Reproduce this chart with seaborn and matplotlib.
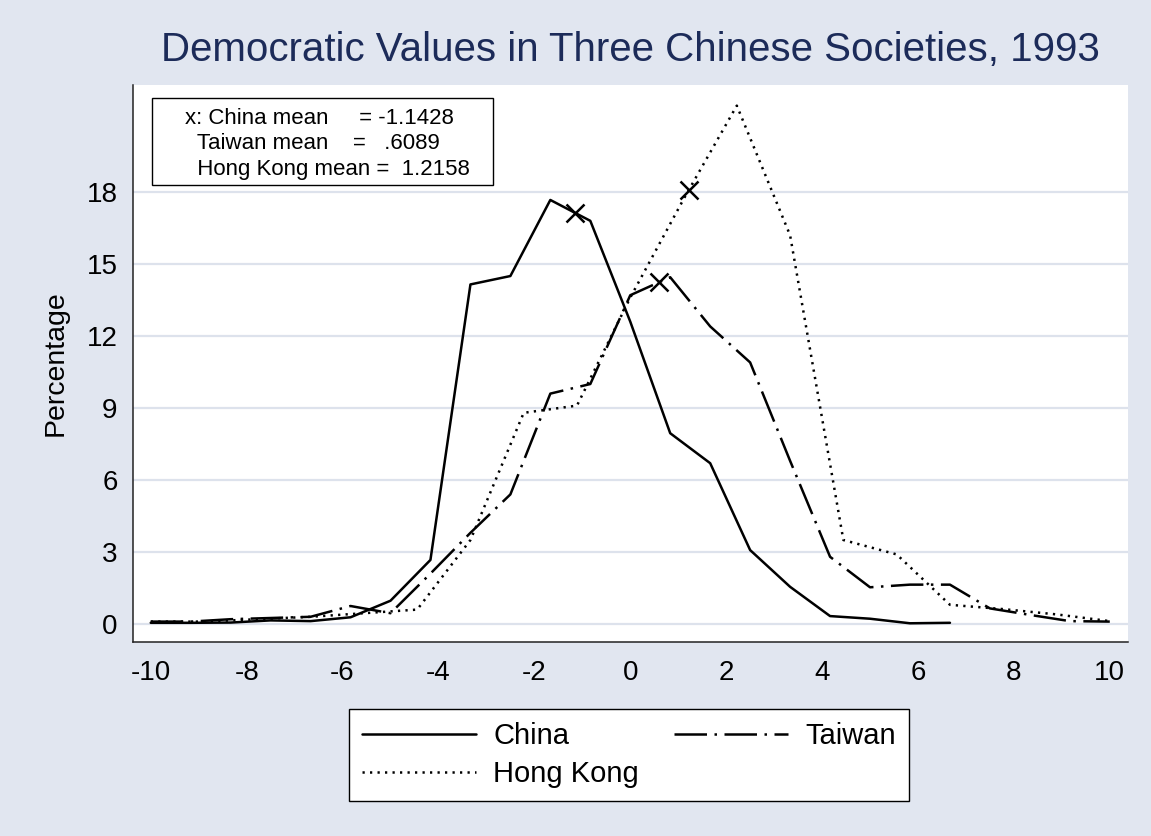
import numpy as np
import pandas as pd
import matplotlib
matplotlib.use("Agg")
import matplotlib.pyplot as plt
from matplotlib.patches import Rectangle
import seaborn as sns

# ---------------- data ----------------
x_ct = [-10, -9.167, -8.333, -7.5, -6.667, -5.833, -5, -4.167, -3.333, -2.5, -1.667, -0.833,
        0, 0.833, 1.667, 2.5, 3.333, 4.167, 5, 5.833, 6.667, 7.5, 8.333, 9.167, 10]
china = [0.05, 0.05, 0.06, 0.15, 0.12, 0.28, 0.97, 2.67, 14.15, 14.5, 17.67, 16.8,
         12.6, 7.95, 6.7, 3.08, 1.55, 0.33, 0.22, 0.03, 0.05]
taiwan = [0.1, 0.1, 0.2, 0.25, 0.3, 0.75, 0.45, 2.1, 3.8, 5.4, 9.6, 10.0,
          13.7, 14.45, 12.4, 10.9, 6.8, 2.8, 1.53, 1.64, 1.64, 0.65, 0.38, 0.12, 0.1]
x_hk = [-10, -8.889, -7.778, -6.667, -5.556, -4.444, -3.333, -2.222, -1.111, 0,
        1.111, 2.222, 3.333, 4.444, 5.556, 6.667, 7.778, 8.889, 10]
hongkong = [0.1, 0.1, 0.2, 0.3, 0.45, 0.6, 3.5, 8.8, 9.1, 13.6,
            17.7, 21.6, 16.2, 3.5, 2.9, 0.8, 0.62, 0.4, 0.12]
means = {"China": -1.1428, "Taiwan": 0.6089, "Hong Kong": 1.2158}
y_ticks = [0, 3, 6, 9, 12, 15, 18]
x_ticks = [-10, -8, -6, -4, -2, 0, 2, 4, 6, 8, 10]
title = "Democratic Values in Three Chinese Societies, 1993"

# ---------------- style ----------------
sns.set_theme(style="white")
plt.rcParams["font.family"] = ["Liberation Sans", "DejaVu Sans"]
plt.rcParams["text.color"] = "black"
bg = "#e1e6f0"
grid_c = "#dde2ec"

fig = plt.figure(figsize=(11.51, 8.36), dpi=100, facecolor=bg)
ax = fig.add_axes([133/1151, 1 - 642/836, (1128-133)/1151, (642-85)/836])
ax.set_facecolor("white")

china_df = pd.DataFrame({"x": x_ct[:len(china)], "y": china})
taiwan_df = pd.DataFrame({"x": x_ct, "y": taiwan})
hk_df = pd.DataFrame({"x": x_hk, "y": hongkong})

lw = 1.8
sns.lineplot(data=china_df, x="x", y="y", ax=ax, color="black", lw=lw,
             linestyle="-", label="China", sort=False, estimator=None)
sns.lineplot(data=taiwan_df, x="x", y="y", ax=ax, color="black", lw=lw,
             linestyle=(0, (13, 3, 1, 3)), label="Taiwan", sort=False, estimator=None)
sns.lineplot(data=hk_df, x="x", y="y", ax=ax, color="black", lw=lw,
             linestyle=(0, (0.9, 2.1)), label="Hong Kong", sort=False, estimator=None)

# mean markers placed on each curve
mx = [means["China"], means["Taiwan"], means["Hong Kong"]]
my = [np.interp(means["China"], x_ct[:len(china)], china),
      np.interp(means["Taiwan"], x_ct, taiwan),
      np.interp(means["Hong Kong"], x_hk, hongkong)]
ax.plot(mx, my, linestyle="none", marker="x", color="black", markersize=13, mew=1.8)

ax.set_xlim(-10.37, 10.38)
ax.set_ylim(-0.75, 22.46)
ax.set_xticks(x_ticks)
ax.set_xticklabels([str(t) for t in x_ticks])
ax.set_yticks(y_ticks)
ax.set_yticklabels([str(t) for t in y_ticks])
ax.yaxis.grid(True, color=grid_c, lw=1.6)
ax.xaxis.grid(False)
ax.set_axisbelow(True)
for s in ["top", "right"]:
    ax.spines[s].set_visible(False)
for s in ["left", "bottom"]:
    ax.spines[s].set_color("#222222")
    ax.spines[s].set_linewidth(1.1)
ax.tick_params(axis="both", which="major", direction="out", length=7, width=1.1,
               color="#222222", labelsize=20, labelcolor="black")
ax.tick_params(axis="x", pad=6)
ax.tick_params(axis="y", pad=4)
ax.set_xlabel("")
ax.set_ylabel("Percentage", fontsize=20.5, color="black")
ax.yaxis.set_label_coords(-0.0644, 0.5)

ax.set_title(title, fontsize=29, color="#1c2b59", pad=17)

# annotation box
ax.add_patch(Rectangle((19/995, 1 - 100/557), (493-152)/995, 87/557,
                       transform=ax.transAxes, fill=True, facecolor="white",
                       edgecolor="black", lw=1.0, zorder=5))
ann = ["x: China mean     = -1.1428",
       "  Taiwan mean    =   .6089",
       "  Hong Kong mean =  1.2158"]
for i, s in enumerate(ann):
    ax.text((185-133)/995, 1 - (118 + 25.5*i - 85)/557, s,
            transform=ax.transAxes, ha="left", va="center", fontsize=16,
            color="black", zorder=6)

# legend
ax.get_legend().remove()
h, l = ax.get_legend_handles_labels()
order = [0, 2, 1]
leg = fig.legend([h[i] for i in order], [l[i] for i in order], ncol=2,
                 loc="center", bbox_to_anchor=(629/1151, 1 - 755/836),
                 fontsize=21, frameon=True, fancybox=False, edgecolor="black",
                 framealpha=1.0, handlelength=3.9, handletextpad=0.6,
                 columnspacing=1.2, borderpad=0.45, labelspacing=0.35,
                 borderaxespad=0)
leg.get_frame().set_linewidth(1.0)
leg.get_frame().set_facecolor("white")
for t in leg.get_texts():
    t.set_color("black")

fig.savefig("out.png", dpi=100, facecolor=bg)
